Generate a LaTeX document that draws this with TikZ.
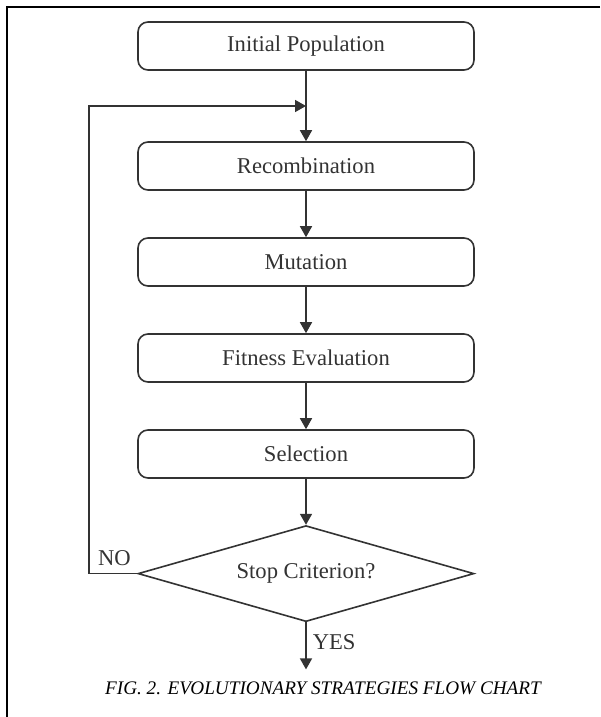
\documentclass[tikz,border=0pt]{standalone}
\usepackage{fontspec}
\setmainfont{Liberation Serif}
\usetikzlibrary{positioning,arrows.meta,calc,shapes.geometric}
\definecolor{ink}{HTML}{333333}

\begin{document}
\begin{tikzpicture}[
  font=\fontsize{11.3}{13}\selectfont,
  >={Triangle[length=5.5pt,width=6pt]},
  box/.style={draw=ink, rounded corners=5pt, line width=0.8pt, text=ink,
              minimum width=168pt, minimum height=24pt, inner sep=2pt},
  cond/.style={diamond, draw=ink, line width=0.8pt, text=ink, aspect=3.5,
               minimum width=168pt, minimum height=48pt, inner sep=1pt},
  arr/.style={->, line width=0.8pt, ink},
  lbl/.style={text=ink, inner sep=1pt},
]
\useasboundingbox (0,0) rectangle (300pt,-358.5pt);

%% ---------- frame (top and left edges only) ----------
\draw[line width=1pt] (300pt,-3.5pt) -- (3.5pt,-3.5pt) -- (3.5pt,-358.5pt);

%% ---------- main chain ----------
\node[box] (init) at (153pt,-23pt) {Initial Population};
\node[box, below=35.2pt of init]   (recomb) {Recombination};
\node[box, below=23.2pt of recomb] (mut)    {Mutation};
\node[box, below=23.2pt of mut]    (fit)    {Fitness Evaluation};
\node[box, below=23.2pt of fit]    (sel)    {Selection};
\node[cond, below=23pt of sel]     (stop)   {Stop Criterion?};

\draw[arr] (init) -- (recomb);
\foreach \a/\b in {recomb/mut, mut/fit, fit/sel, sel/stop}
  \draw[arr] (\a) -- (\b);

%% ---------- loop back (NO) ----------
\coordinate (j) at ($(init.south)!0.5!(recomb.north)$);
\draw[arr] (stop.west) -- ++(-24pt,0) |- (j);
\node[lbl, anchor=south east] (no) at ($(stop.west)+(-2pt,2.5pt)$) {NO};

%% ---------- exit (YES) ----------
\coordinate (out) at ($(stop.south)+(0,-23.5pt)$);
\draw[arr] (stop.south) -- node[lbl, pos=0.43, right=2pt] (yes) {YES} (out);

%% ---------- caption ----------
\node[font=\fontsize{9.6}{12}\selectfont\itshape] (cap) at (161.5pt,-344pt)
  {FIG. 2. EVOLUTIONARY STRATEGIES FLOW CHART};

\end{tikzpicture}
\end{document}
